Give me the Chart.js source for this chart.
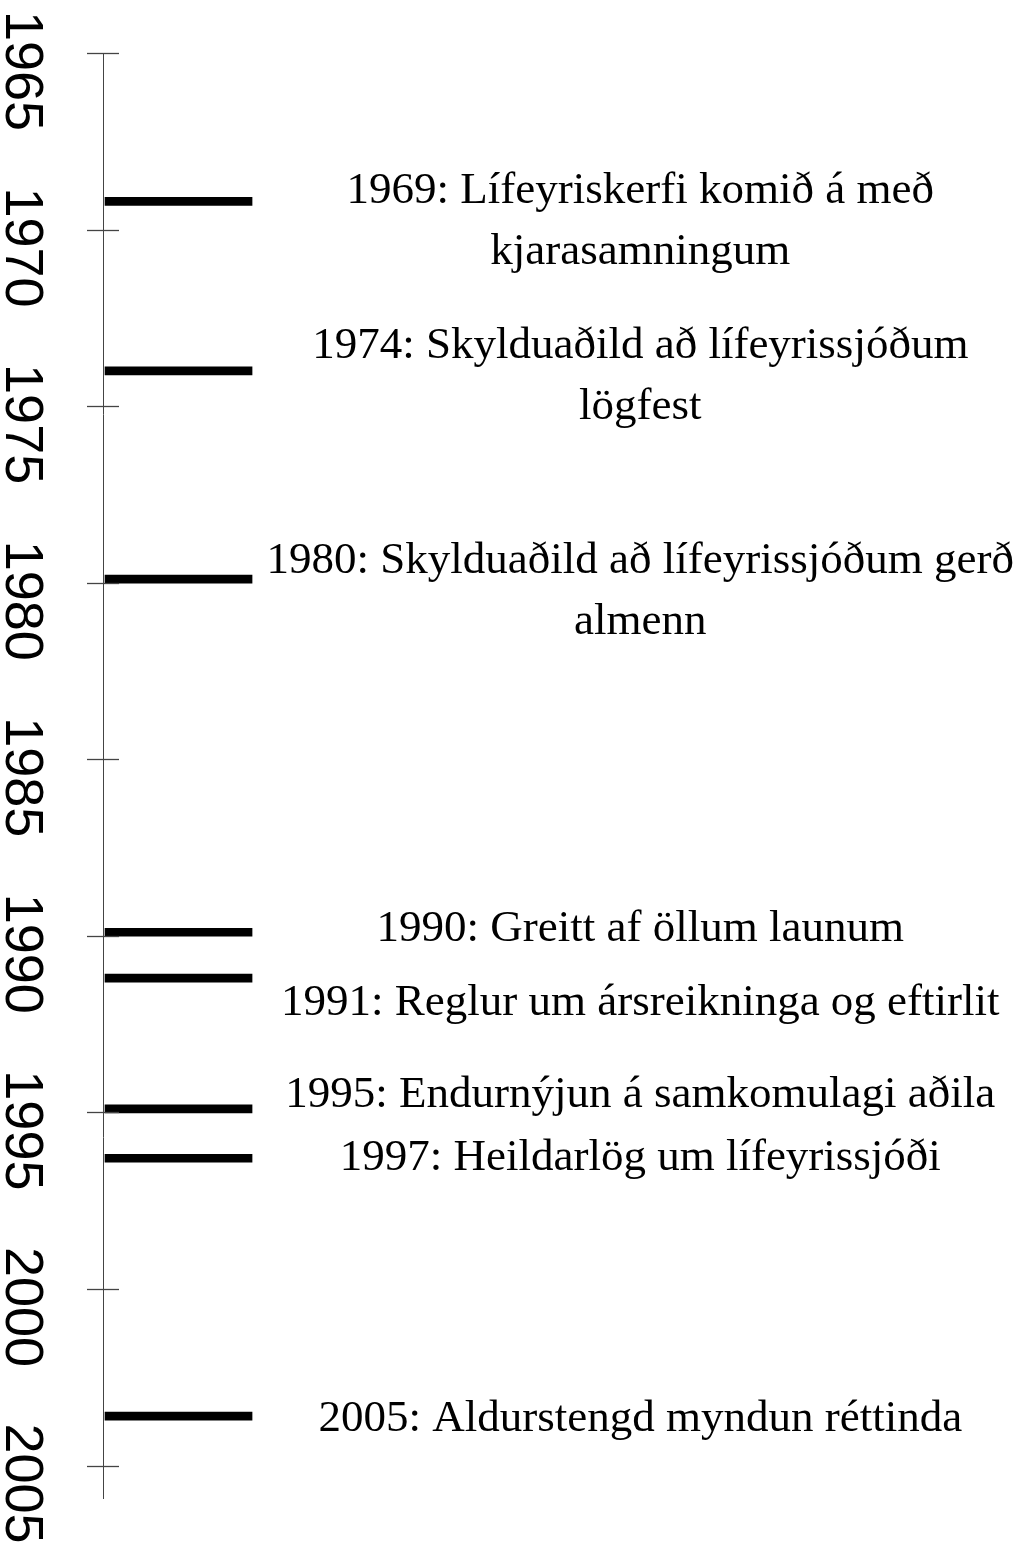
<!DOCTYPE html>
<html>
<head>
<meta charset="utf-8">
<script src="https://cdn.jsdelivr.net/npm/chart.js@4/dist/chart.umd.min.js"></script>
<style>
  html, body { margin: 0; padding: 0; background: #ffffff; }
  .wrap { position: relative; width: 1023px; height: 1543px; }
</style>
</head>
<body>
<div class="wrap"><canvas id="timeline"></canvas></div>
<script>
// tick labels on the year axis
const tickYears = [1965, 1970, 1975, 1980, 1985, 1990, 1995, 2000, 2005];

// where each event bar sits on the year axis
const eventYears = [1969.2, 1974.0, 1979.9, 1989.9, 1991.2, 1994.9, 1996.3, 2003.6];

// event texts, one entry per bar, split into lines
const eventLabels = [
  ['1969: Lífeyriskerfi komið á með', 'kjarasamningum'],
  ['1974: Skylduaðild að lífeyrissjóðum', 'lögfest'],
  ['1980: Skylduaðild að lífeyrissjóðum gerð', 'almenn'],
  ['1990: Greitt af öllum launum'],
  ['1991: Reglur um ársreikninga og eftirlit'],
  ['1995: Endurnýjun á samkomulagi aðila'],
  ['1997: Heildarlög um lífeyrissjóði'],
  ['2005: Aldurstengd myndun réttinda'],
];

// year at which the first line of each text is centred
const labelYears = [1968.9, 1973.3, 1979.4, 1989.8, 1991.9, 1994.5, 1996.3, 2003.7];

const BAR_START = 0.22;
const BAR_END = 16.2;
const TEXT_CENTER = 58.4;
const LINE_HEIGHT = 61;
const AXIS_COLOR = '#444444';

const timelineText = {
  id: 'timelineText',
  afterDraw(chart) {
    const { ctx, scales: { x, y } } = chart;
    const axisX = chart.chartArea.left;
    ctx.save();

    // tick marks crossing the axis
    ctx.strokeStyle = AXIS_COLOR;
    ctx.lineWidth = 1.3;
    tickYears.forEach((year) => {
      const py = Math.round(y.getPixelForValue(year)) + 0.5;
      ctx.beginPath();
      ctx.moveTo(axisX - 16, py);
      ctx.lineTo(axisX + 16, py);
      ctx.stroke();
    });

    // year labels, turned to read downwards
    ctx.fillStyle = '#000000';
    ctx.font = '54px "Liberation Sans", Arial, sans-serif';
    ctx.textAlign = 'center';
    ctx.textBaseline = 'alphabetic';
    tickYears.forEach((year) => {
      const py = y.getPixelForValue(year);
      ctx.save();
      ctx.translate(6, py + 18);
      ctx.rotate(Math.PI / 2);
      ctx.fillText(String(year), 0, 0);
      ctx.restore();
    });

    // event texts
    ctx.font = '45px "Liberation Serif", "Times New Roman", serif';
    ctx.textBaseline = 'middle';
    const cx = x.getPixelForValue(TEXT_CENTER);
    eventLabels.forEach((lines, i) => {
      const top = y.getPixelForValue(labelYears[i]);
      lines.forEach((line, j) => {
        ctx.fillText(line, cx, top + j * LINE_HEIGHT);
      });
    });

    ctx.restore();
  },
};

new Chart(document.getElementById('timeline'), {
  type: 'bar',
  data: {
    datasets: [{
      data: eventYears.map((year) => ({ y: year, x: [BAR_START, BAR_END] })),
      backgroundColor: '#000000',
      borderWidth: 0,
      barThickness: 8,
    }],
  },
  options: {
    indexAxis: 'y',
    responsive: true,
    maintainAspectRatio: false,
    animation: false,
    layout: { padding: { left: 103, right: 0, top: 53, bottom: 45 } },
    scales: {
      x: {
        type: 'linear',
        display: false,
        min: 0,
        max: 100,
      },
      y: {
        type: 'linear',
        reverse: true,
        offset: false,
        min: 1965,
        max: 2005.92,
        afterBuildTicks: (scale) => {
          scale.ticks = tickYears.map((value) => ({ value }));
        },
        ticks: { display: false },
        grid: { drawOnChartArea: false, drawTicks: false },
        border: { display: true, color: AXIS_COLOR, width: 1 },
      },
    },
    plugins: {
      legend: { display: false },
      tooltip: { enabled: false },
    },
  },
  plugins: [timelineText],
});
</script>
</body>
</html>
